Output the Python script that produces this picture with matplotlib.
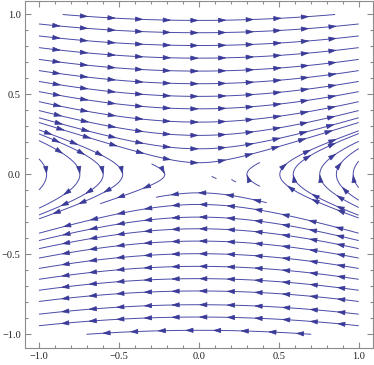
import numpy as np
import matplotlib.pyplot as plt
from matplotlib.patches import FancyArrowPatch
from matplotlib.ticker import MultipleLocator, FuncFormatter

# vector field {y, x/10} on [-1, 1] x [-1, 1]
k = 0.1
grid = np.linspace(-1, 1, 201)
X, Y = np.meshgrid(grid, grid)
U = Y
V = k * X

# stream lines crossing x = 0 (upper half runs right, lower half runs left)
top_y0 = [0.073, 0.160, 0.244, 0.327, 0.410, 0.488, 0.567, 0.646, 0.727, 0.806, 0.886, 0.963]
bot_y0 = [-0.188, -0.267, -0.340, -0.417, -0.496, -0.575, -0.652, -0.729, -0.815, -0.892, -0.975]
# stream lines turning round at y = 0 near the sides
left_x0 = [-0.952, -0.744, -0.598, -0.476]
right_x0 = [0.506, 0.590, 0.756, 0.860, 0.965]
# cut pieces: (x, y, half length)
pieces = [(0.08, -0.118, 0.70), (-0.35, -0.088, 0.575), (0.30, 0.0, 0.26),
          (0.095, -0.02, 0.04), (0.218, -0.04, 0.045), (0.252, 0.048, 0.03)]

line_col = '#4a4aa8'
head_col = '#3a3a98'
frame = '#8c8c8c'

fig = plt.figure(figsize=(3.74, 3.65), dpi=100)
ax = fig.add_axes([25 / 374, 16.7 / 365, 347.7 / 374, 347.8 / 365])


def stream(x, y, half):
    n0 = len(ax.patches)
    s = ax.streamplot(grid, grid, U, V, start_points=[[x, y]], density=4,
                      broken_streamlines=False, maxlength=half / 2, minlength=0.001,
                      color=line_col, linewidth=0.7, arrowsize=0.1)
    for p in list(ax.patches)[n0:]:
        p.remove()
    return s.lines.get_segments()


def arrows(pts, step=0.173):
    d = np.hypot(*np.diff(pts, axis=0).T)
    s = np.concatenate([[0], np.cumsum(d)])
    L = s[-1]
    n = int(L / step)
    if n == 0 and L > 0.085:
        n = 1
    if n == 0:
        return
    first = (L - (n - 1) * step) / 2
    for t in first + step * np.arange(n):
        tip = (np.interp(t, s, pts[:, 0]), np.interp(t, s, pts[:, 1]))
        tail = (np.interp(t - 0.02, s, pts[:, 0]), np.interp(t - 0.02, s, pts[:, 1]))
        ax.add_patch(FancyArrowPatch(tail, tip, arrowstyle='-|>,head_length=0.45,head_width=0.14',
                                     mutation_scale=11, color=head_col, lw=0.5,
                                     shrinkA=0, shrinkB=0, zorder=3))


seeds = [(0, y, 4) for y in top_y0 + bot_y0]
seeds += [(x, 0, 4) for x in left_x0 + right_x0]
seeds += pieces
for x, y, half in seeds:
    for seg in stream(x, y, half):
        arrows(np.asarray(seg))

ax.set_xlim(-1.0875, 1.0875)
ax.set_ylim(-1.0875, 1.0875)


def fmt(v, pos):
    if abs(v) < 1e-9:
        v = 0.0
    return f'{v:.1f}'.replace('-', '\u2212')


for axis in (ax.xaxis, ax.yaxis):
    axis.set_major_locator(MultipleLocator(0.5))
    axis.set_minor_locator(MultipleLocator(0.1))
    axis.set_major_formatter(FuncFormatter(fmt))

ax.tick_params(which='both', direction='in', top=True, right=True, color=frame, width=0.8)
ax.tick_params(which='major', length=4, pad=3, labelsize=7.5, labelcolor='#222222')
ax.tick_params(which='minor', length=2.2)
for lab in ax.get_xticklabels() + ax.get_yticklabels():
    lab.set_family(['Liberation Serif', 'DejaVu Serif'])
for sp in ax.spines.values():
    sp.set_color(frame)
    sp.set_linewidth(0.8)

fig.savefig('out.png', dpi=100)
